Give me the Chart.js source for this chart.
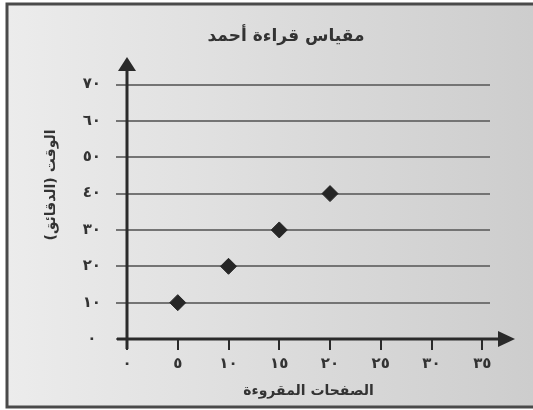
<!DOCTYPE html>
<html>
<head>
<meta charset="utf-8">
<script src="https://cdn.jsdelivr.net/npm/chart.js@4"></script>
<style>
  html, body { margin: 0; padding: 0; background: #fff; }
  #wrap { width: 533px; height: 410px; }
</style>
</head>
<body>
<div id="wrap"><canvas id="grafico"></canvas></div>
<script>
// dados
const tituloGrafico = 'مقياس قراءة أحمد';
const tituloX = 'الصفحات المقروءة';
const tituloY = 'الوقت (الدقائق)';
const paginasLidas = [5, 10, 15, 20];
const minutos = [10, 20, 30, 40];
const rotulosX = ['٠', '٥', '١٠', '١٥', '٢٠', '٢٥', '٣٠', '٣٥'];
const rotulosY = ['٠', '١٠', '٢٠', '٣٠', '٤٠', '٥٠', '٦٠', '٧٠'];

Chart.defaults.font.family = "'DejaVu Sans', sans-serif";
Chart.defaults.color = '#333';

// fundo com moldura, titulos e eixos com setas
const moldura = {
    id: 'moldura',
    beforeDraw(chart) {
        const c = chart.ctx;
        c.save();
        c.fillStyle = '#fff';
        c.fillRect(0, 0, chart.width, chart.height);
        const g = c.createLinearGradient(7, 0, chart.width, 0);
        g.addColorStop(0, '#ececec');
        g.addColorStop(1, '#cdcdcd');
        c.fillStyle = g;
        c.fillRect(7, 4, chart.width + 10, 403);
        c.strokeStyle = '#4a4a4a';
        c.lineWidth = 3;
        c.strokeRect(7, 4, chart.width + 10, 403);
        c.restore();
    },
    afterDraw(chart) {
        const c = chart.ctx;
        const area = chart.chartArea;
        const x0 = chart.scales.x.getPixelForValue(0);
        const y0 = chart.scales.y.getPixelForValue(0);
        c.save();
        c.fillStyle = '#333';
        c.textAlign = 'center';
        c.textBaseline = 'middle';
        c.font = "bold 17px 'DejaVu Sans'";
        c.fillText(tituloGrafico, 286, 37);
        c.translate(51, 185);
        c.rotate(-Math.PI / 2);
        c.font = "bold 14px 'DejaVu Sans'";
        c.fillText(tituloY, 0, 0);
        c.restore();

        c.save();
        c.strokeStyle = '#2a2a2a';
        c.fillStyle = '#2a2a2a';
        c.lineWidth = 3;
        c.beginPath();
        c.moveTo(x0, y0 + 10);
        c.lineTo(x0, area.top);
        c.moveTo(x0 - 10, y0);
        c.lineTo(area.right + 9, y0);
        c.stroke();
        c.beginPath();
        c.moveTo(x0, area.top - 13);
        c.lineTo(x0 - 9, area.top + 1);
        c.lineTo(x0 + 9, area.top + 1);
        c.closePath();
        c.fill();
        c.beginPath();
        c.moveTo(area.right + 25, y0);
        c.lineTo(area.right + 8, y0 - 8);
        c.lineTo(area.right + 8, y0 + 8);
        c.closePath();
        c.fill();
        c.restore();
    }
};

const ctx = document.getElementById('grafico');
const grafico = new Chart(ctx, {
    type: 'scatter',
    data: {
        datasets: [{
            data: paginasLidas.map((p, i) => ({ x: p, y: minutos[i] })),
            pointStyle: 'rectRot',
            pointRadius: 8,
            backgroundColor: '#262626',
            borderColor: '#262626',
            borderWidth: 1
        }]
    },
    options: {
        responsive: true,
        maintainAspectRatio: false,
        animation: false,
        layout: { padding: { top: 70, right: 43, left: 0, bottom: 0 } },
        plugins: {
            legend: { display: false },
            tooltip: { enabled: false }
        },
        scales: {
            x: {
                type: 'linear',
                min: 0,
                max: 35.76,
                afterFit: s => { s.height = 71; },
                border: { display: false },
                grid: {
                    drawOnChartArea: false,
                    drawTicks: true,
                    tickLength: 11,
                    tickColor: '#2a2a2a',
                    lineWidth: 2
                },
                ticks: {
                    stepSize: 5,
                    includeBounds: false,
                    maxRotation: 0,
                    autoSkip: false,
                    padding: 5,
                    font: { size: 15, weight: 'bold' },
                    callback: (v, i) => rotulosX[i]
                },
                title: {
                    display: true,
                    text: tituloX,
                    font: { size: 14, weight: 'bold' },
                    padding: { top: 0, bottom: 10 }
                }
            },
            y: {
                min: 0,
                max: 74,
                afterFit: s => { s.width = 127; },
                border: { display: false },
                grid: {
                    color: '#747474',
                    lineWidth: 2,
                    tickLength: 11
                },
                ticks: {
                    stepSize: 10,
                    includeBounds: false,
                    crossAlign: 'center',
                    padding: 15,
                    font: { size: 15, weight: 'bold' },
                    callback: (v, i) => rotulosY[i]
                }
            }
        }
    },
    plugins: [moldura]
});
</script>
</body>
</html>
